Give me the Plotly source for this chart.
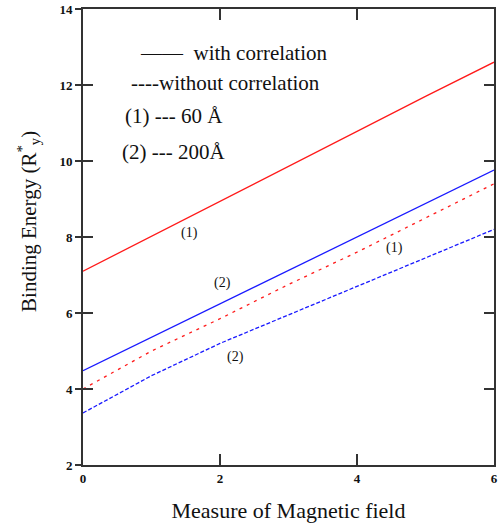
import plotly.graph_objects as go

# Data
field = [0, 1, 2, 3, 4, 5, 6]
red_with = [7.10, 8.02, 8.95, 9.87, 10.80, 11.70, 12.60]      # (1) 60 Å, with correlation
blue_with = [4.48, 5.36, 6.25, 7.12, 8.00, 8.88, 9.76]       # (2) 200 Å, with correlation
red_without = [4.00, 5.00, 5.85, 6.75, 7.60, 8.50, 9.40]     # (1) 60 Å, without correlation
blue_without = [3.37, 4.35, 5.20, 5.95, 6.70, 7.45, 8.20]    # (2) 200 Å, without correlation

x_ticks = [0, 2, 4, 6]
y_ticks = [2, 4, 6, 8, 10, 12, 14]

RED = "#ff1a1a"
BLUE = "#1a1aff"
SERIF = "Liberation Serif, Times New Roman, serif"

fig = go.Figure()
fig.add_trace(go.Scatter(x=field, y=red_with, mode="lines",
                         line=dict(color=RED, width=1.3)))
fig.add_trace(go.Scatter(x=field, y=blue_with, mode="lines",
                         line=dict(color=BLUE, width=1.3)))
fig.add_trace(go.Scatter(x=field, y=red_without, mode="lines",
                         line=dict(color=RED, width=1.3, dash="3px,5px")))
fig.add_trace(go.Scatter(x=field, y=blue_without, mode="lines",
                         line=dict(color=BLUE, width=1.3, dash="4px,2px")))

# overlay axis for inner ticks on left/right
fig.add_trace(go.Scatter(x=[0], y=[2], mode="markers", marker=dict(opacity=0),
                         yaxis="y2", hoverinfo="skip"))

texts = [
    (0.80, 12.84, "——  with correlation", 21),
    (0.67, 12.05, "----without correlation", 21),
    (0.58, 11.18, "(1) --- 60 Å", 21),
    (0.54, 10.24, "(2) --- 200Å", 21),
]
for x, y, t, s in texts:
    fig.add_annotation(x=x, y=y, text=t, showarrow=False, xanchor="left",
                       yanchor="middle", font=dict(family=SERIF, size=s, color="#111"))

labels = [(1.55, 8.10, "(1)"), (2.03, 6.79, "(2)"), (4.55, 7.71, "(1)"), (2.22, 4.84, "(2)")]
for x, y, t in labels:
    fig.add_annotation(x=x, y=y, text=t, showarrow=False,
                       font=dict(family=SERIF, size=14, color="#111"))

# y-axis title
fig.add_annotation(x=-0.134, y=0.535, xref="paper", yref="paper",
                   text="Binding Energy (R<sup>*</sup><sub>y</sub>)", textangle=-90,
                   showarrow=False, xanchor="center", yanchor="middle",
                   font=dict(family=SERIF, size=21, color="#111"))

axis_col = "#333333"
fig.update_layout(
    width=501, height=526,
    margin=dict(l=83, r=7, t=9, b=61),
    paper_bgcolor="white", plot_bgcolor="white",
    showlegend=False,
    xaxis=dict(range=[0, 6], tickvals=x_ticks, ticks="inside", ticklen=11,
               tickwidth=2, tickcolor=axis_col, automargin=False,
               ticklabeloverflow="allow",
               showline=True, linecolor=axis_col, linewidth=2, mirror="ticks",
               showgrid=False, zeroline=False,
               tickfont=dict(family=SERIF, size=13, color="#111", weight="bold"),
               title=dict(text="Measure of Magnetic field", standoff=18,
                          font=dict(family=SERIF, size=22, color="#111"))),
    yaxis=dict(range=[2, 14], tickvals=y_ticks, ticks="outside", ticklen=6,
               tickwidth=2, tickcolor=axis_col, automargin=False,
               ticklabeloverflow="allow",
               showline=True, linecolor=axis_col, linewidth=2, mirror=True,
               showgrid=False, zeroline=False,
               tickfont=dict(family=SERIF, size=13, color="#111", weight="bold")),
    yaxis2=dict(range=[2, 14], tickvals=y_ticks, overlaying="y", side="left",
                ticks="inside", ticklen=10, tickwidth=2, tickcolor=axis_col,
                showticklabels=False, mirror="ticks", showline=True, automargin=False,
                linecolor=axis_col, linewidth=2, showgrid=False, zeroline=False),
)

fig.write_html("out.html", config={"displayModeBar": False})

# remove default page margin so the figure fills the window exactly
with open("out.html", encoding="utf-8") as f:
    html = f.read()
html = html.replace("<head>", "<head><style>html,body{margin:0;padding:0;overflow:hidden;}</style>", 1)
with open("out.html", "w", encoding="utf-8") as f:
    f.write(html)
